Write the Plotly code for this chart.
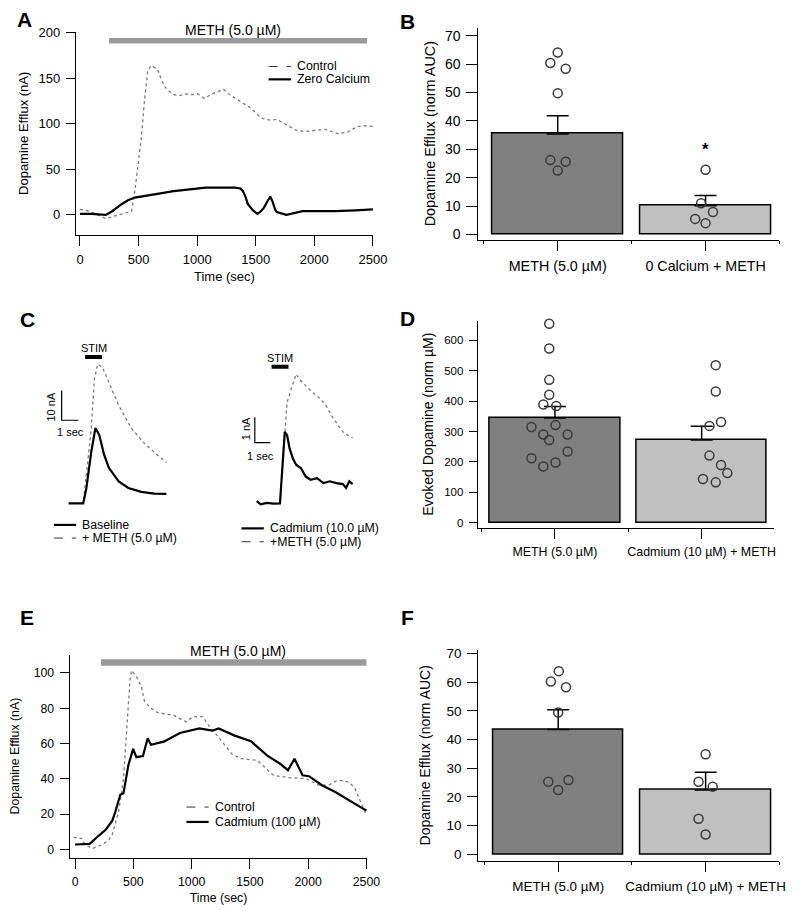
import plotly.graph_objects as go

FONT = "Liberation Sans, Arial, Helvetica, sans-serif"
W, H = 800, 911
PAGE_MARGIN = 8  # default body margin of the page that hosts the figure

# ---------------- Panel A : METH-induced efflux, control vs zero calcium ----------------
a_ctrl_time = [0, 83, 220, 358, 440, 468, 495, 523, 550, 578, 606, 661, 716, 760, 799, 850, 909, 960, 1005,
               1060, 1129, 1180, 1225, 1267, 1350, 1400, 1460, 1542, 1580, 1624, 1680, 1762, 1845, 1900,
               1955, 2093, 2150, 2203, 2285, 2368, 2430, 2500]
a_ctrl_val = [6, 4, -4, 1, 4, 26, 55, 84, 125, 158, 164, 160, 142, 136, 132, 131, 133, 132, 133,
              128, 133, 136, 138, 133, 126, 122, 117, 107, 105, 104, 105, 99, 93, 92,
              92, 94, 91, 89, 91, 97, 98, 97]
a_zca_time = [0, 100, 220, 275, 358, 410, 468, 550, 661, 800, 936, 1074, 1200, 1322, 1370, 1391, 1412,
              1432, 1475, 1515, 1545, 1570, 1600, 1625, 1645, 1665, 1680, 1762, 1900, 2000, 2175, 2350, 2500]
a_zca_val = [1, 1, 0, 4, 12, 16, 19, 21, 23, 26, 28, 30, 30, 30, 29, 26, 20,
             12, 5, 1, 4, 8, 15, 20, 14, 6, 3, 0, 4, 4, 4, 5, 6]

# ---------------- Panel B : AUC bars ----------------
b_cats = ["METH (5.0 µM)", "0 Calcium + METH"]
b_mean = [35.4, 10.1]
b_sem = [6.4, 3.6]
b_pts1 = [64.1, 60.4, 58.4, 49.8, 26.2, 25.6, 22.5]
b_jit1 = [0.0, -0.05, 0.054, 0.0, -0.05, 0.054, 0.0]
b_pts2 = [22.8, 11.0, 7.9, 5.5, 4.0]
b_jit2 = [0.0, -0.03, 0.05, -0.07, 0.0]

# ---------------- Panel C : evoked release traces ----------------
c1_base_t = [0, 0.87, 1.06, 1.35, 1.60, 1.83, 2.12, 2.41, 2.99, 3.57, 4.34, 5.11, 5.84]
c1_base_v = [0, 0, 5.2, 17.4, 25.4, 23.0, 16.3, 11.9, 7.4, 5.2, 3.9, 3.3, 3.2]
c1_meth_t = [0, 0.87, 1.10, 1.35, 1.54, 1.73, 2.02, 2.41, 2.99, 3.76, 4.53, 5.30, 5.84]
c1_meth_v = [0, 0, 11.9, 25.2, 41.9, 46.9, 45.8, 40.8, 33.0, 25.2, 20.2, 16.3, 13.8]
c2_cd_t = [0, 0.25, 0.66, 1.08, 1.5, 1.66, 1.81, 1.96, 2.12, 2.33, 2.54, 2.85, 3.16, 3.47, 3.89,
           4.31, 4.72, 5.14, 5.56, 5.77, 5.98, 6.19]
c2_cd_v = [0.09, -0.04, 0.02, -0.01, 0, 1.39, 2.81, 2.68, 2.16, 1.77, 1.52, 1.39, 1.06, 0.93, 0.99,
           0.80, 0.87, 0.80, 0.76, 0.61, 0.87, 0.76]
c2_meth_t = [1.5, 1.66, 1.81, 1.96, 2.23, 2.54, 2.85, 3.16, 3.58, 4.0, 4.41, 4.83, 5.25, 5.66, 6.19]
c2_meth_v = [0, 1.39, 2.81, 3.98, 4.50, 5.08, 4.82, 4.63, 4.37, 4.17, 3.91, 3.46, 3.07, 2.75, 2.58]

# ---------------- Panel D : evoked dopamine bars ----------------
d_cats = ["METH (5.0 µM)", "Cadmium (10 µM) + METH"]
d_mean = [344.6, 271.7]
d_sem = [38.0, 45.7]
d_pts1 = [655, 573, 470, 421, 389, 384, 315, 321, 290, 290, 272, 234, 212, 198, 185]
d_jit1 = [-0.039, -0.039, -0.039, -0.039, -0.079, 0.009, -0.160, 0.004, -0.079, 0.086,
          -0.039, 0.086, -0.160, 0.004, -0.079]
d_pts2 = [518.5, 431.5, 318.5, 331.5, 220.7, 190, 163, 143.5, 132.6]
d_jit2 = [0.096, 0.096, 0.053, 0.132, 0.053, 0.132, 0.175, 0.009, 0.096]

# ---------------- Panel E : METH-induced efflux, control vs cadmium ----------------
e_ctrl_time = [-14, 55, 83, 152, 235, 291, 318, 374, 415, 443, 471, 484, 526, 568, 595, 651, 706, 844,
               955, 1011, 1094, 1149, 1232, 1343, 1426, 1564, 1703, 1841, 1980, 2090, 2173, 2256, 2339,
               2395, 2450, 2500]
e_ctrl_val = [6.9, 6.2, 2.8, 0.6, 2.8, 5.6, 8.4, 21.5, 40, 68, 96, 101.5, 98, 92.5, 84, 80, 77.6, 76,
              72.3, 75.3, 75.3, 70, 63.6, 54.2, 51.4, 50.5, 42, 40.6, 40.2, 36.4, 36.4, 39.3, 38.3,
              35.5, 27, 19.3]
e_cd_time = [0, 125, 180, 263, 319, 346, 388, 415, 457, 498, 526, 582, 623, 651, 761, 900, 1066, 1177,
             1232, 1370, 1509, 1647, 1758, 1827, 1883, 1952, 2007, 2118, 2229, 2367, 2500]
e_cd_val = [2.8, 3.2, 6.5, 11.2, 16.3, 21.5, 31, 31.8, 47.7, 57, 52.3, 52.9, 63, 59.3, 61.1, 66, 68.6,
            67.3, 68.6, 64.5, 61.3, 53.3, 48.6, 44.9, 51.4, 42, 41.5, 36.4, 32.7, 27, 22]

# ---------------- Panel F : AUC bars ----------------
f_cats = ["METH (5.0 µM)", "Cadmium (10 µM) + METH"]
f_mean = [43.5, 22.4]
f_sem = [6.9, 6.2]
f_pts1 = [63.9, 60.3, 58.3, 49.5, 25.3, 25.9, 22.4]
f_jit1 = [0.004, -0.05, 0.053, 0.0, -0.067, 0.07, 0.0]
f_pts2 = [34.9, 25.3, 23.6, 12.4, 6.9]
f_jit2 = [0.0, -0.048, 0.048, -0.048, 0.0]

BAR_COLORS = ["#808080", "#c0c0c0"]


def px(x):
    return (x - PAGE_MARGIN) / W


def py(y):
    return 1 - (y - PAGE_MARGIN) / H


def fnt(size):
    return dict(family=FONT, size=size, color="black")


fig = go.Figure()


def add_line(t, v, xa, ya, kind):
    if kind == "ctrl":
        line = dict(color="#7a7a7a", width=1.3, dash="dot")
    else:
        line = dict(color="black", width=2.2)
    fig.add_trace(go.Scatter(x=t, y=v, mode="lines", line=line, xaxis=xa, yaxis=ya,
                             showlegend=False, hoverinfo="skip"))


def add_bars(means, sems, pts1, jit1, pts2, jit2, xa, ya, width):
    fig.add_trace(go.Bar(
        x=[0, 1], y=means, width=width, xaxis=xa, yaxis=ya, showlegend=False,
        marker=dict(color=BAR_COLORS, line=dict(color="black", width=1.5)),
        error_y=dict(type="data", symmetric=False, array=sems, arrayminus=[0, 0],
                     color="black", thickness=1.5, width=11)))
    for base, pts, jit in ((0, pts1, jit1), (1, pts2, jit2)):
        fig.add_trace(go.Scatter(
            x=[base + j for j in jit], y=pts, mode="markers", xaxis=xa, yaxis=ya,
            showlegend=False, hoverinfo="skip", cliponaxis=False,
            marker=dict(symbol="circle", size=9, color="rgba(0,0,0,0)",
                        line=dict(color="#3a3a3a", width=1.5))))


add_line(a_ctrl_time, a_ctrl_val, "x", "y", "ctrl")
add_line(a_zca_time, a_zca_val, "x", "y", "treat")
add_bars(b_mean, b_sem, b_pts1, b_jit1, b_pts2, b_jit2, "x2", "y2", 0.885)
add_line(c1_meth_t, c1_meth_v, "x3", "y3", "ctrl")
add_line(c1_base_t, c1_base_v, "x3", "y3", "treat")
add_line(c2_meth_t, c2_meth_v, "x4", "y4", "ctrl")
add_line(c2_cd_t, c2_cd_v, "x4", "y4", "treat")
add_bars(d_mean, d_sem, d_pts1, d_jit1, d_pts2, d_jit2, "x5", "y5", 0.89)
add_line(e_ctrl_time, e_ctrl_val, "x6", "y6", "ctrl")
add_line(e_cd_time, e_cd_val, "x6", "y6", "treat")
add_bars(f_mean, f_sem, f_pts1, f_jit1, f_pts2, f_jit2, "x7", "y7", 0.886)


def ax(domain, rng, anchor, tsize, **kw):
    d = dict(domain=domain, range=rng, anchor=anchor, showline=True, linecolor="black", linewidth=1,
             ticks="outside", tickcolor="black", tickwidth=1, ticklen=9, showgrid=False,
             zeroline=False, tickfont=fnt(tsize), fixedrange=True, ticklabelstandoff=3)
    d.update(kw)
    return d


def hidden(domain, rng, anchor):
    return dict(domain=domain, range=rng, anchor=anchor, visible=False, fixedrange=True)


def cat_x(domain, rng, anchor, cats, tsize):
    return ax(domain, rng, anchor, tsize, tickmode="array", tickvals=[0, 1], ticktext=cats, ticklen=10,
              minor=dict(tickmode="array", tickvals=[-0.5, 0.5, 1.5], ticklen=3, ticks="outside",
                         tickcolor="black"))


layout = dict(
    width=W, height=H, margin=dict(l=0, r=0, t=0, b=0),
    paper_bgcolor="white", plot_bgcolor="rgba(0,0,0,0)", showlegend=False,
    font=fnt(12),
    bargap=0,
    # A
    xaxis=ax([px(65.7), px(373)], [-35.5, 2502], "y", 13, tickvals=[0, 500, 1000, 1500, 2000, 2500],
             ticklen=10, title=dict(text="Time (sec)", font=fnt(13), standoff=5)),
    yaxis=ax([py(231), py(26)], [-21.9, 201.1], "x", 13, tickvals=[0, 50, 100, 150, 200],
             title=dict(text="Dopamine Efflux (nA)", font=fnt(13), standoff=6)),
    # B
    xaxis2=cat_x([px(481.7), px(793)], [-0.537, 1.5], "y2", b_cats, 14.3),
    yaxis2=ax([py(236), py(21.7)], [-1.85, 72.9], "x2", 14, tickvals=list(range(0, 71, 10)), ticklen=11,
              title=dict(text="Dopamine Efflux (norm AUC)", font=fnt(14.4), standoff=5)),
    # C left / right
    xaxis3=hidden([px(30), px(170)], [-1.636, 6.457], "y3"),
    yaxis3=hidden([py(510), py(340)], [-2.57, 54.1], "x3"),
    xaxis4=hidden([px(230), px(370)], [-1.419, 7.331], "y4"),
    yaxis4=hidden([py(510), py(340)], [-0.30, 6.315], "x4"),
    # D
    xaxis5=cat_x([px(481), px(787)], [-0.527, 1.491], "y5", d_cats, 12.4),
    yaxis5=ax([py(526.7), py(318)], [-16.3, 664], "x5", 11.5, tickvals=list(range(0, 601, 100)), ticklen=8,
              title=dict(text="Evoked Dopamine (norm µM)", font=fnt(14), standoff=7)),
    # E
    xaxis6=ax([px(59.3), px(367)], [-47, 2508], "y6", 12.3, tickvals=[0, 500, 1000, 1500, 2000, 2500],
              ticklen=10, title=dict(text="Time (sec)", font=fnt(12.3), standoff=5)),
    yaxis6=ax([py(860), py(655)], [-4.6, 110.4], "x6", 12.3, tickvals=[0, 20, 40, 60, 80, 100], ticklen=9,
              title=dict(text="Dopamine Efflux (nA)", font=fnt(12.3), standoff=17)),
    # F
    xaxis7=cat_x([px(481.7), px(793)], [-0.542, 1.501], "y7", f_cats, 13.4),
    yaxis7=ax([py(863.3), py(650)], [-2.3, 71.4], "x7", 13.5, tickvals=list(range(0, 71, 10)), ticklen=10,
              title=dict(text="Dopamine Efflux (norm AUC)", font=fnt(14), standoff=12)),
)

shapes = []
annotations = []

# Treatment bars (METH application) in A and E
shapes.append(dict(type="line", xref="x", yref="y", x0=248, x1=2450, y0=191.3, y1=191.3,
                   line=dict(color="#9a9a9a", width=5.5)))
annotations.append(dict(xref="x", yref="y domain", x=1307, y=1.008, text="METH (5.0 µM)",
                        yanchor="middle", xanchor="center", showarrow=False, font=fnt(14)))
shapes.append(dict(type="line", xref="x6", yref="y6", x0=222, x1=2500, y0=106, y1=106,
                   line=dict(color="#9a9a9a", width=6.5)))
annotations.append(dict(xref="x6", yref="y6 domain", x=1398, y=1.016, text="METH (5.0 µM)",
                        yanchor="middle", xanchor="center", showarrow=False, font=fnt(14)))

# STIM bars and scale bars in C
shapes.append(dict(type="line", xref="x3", yref="y3", x0=0.983, x1=1.988, y0=49.3, y1=49.3,
                   line=dict(color="black", width=4)))
annotations.append(dict(xref="x3", yref="y3", x=1.49, y=52.4, text="STIM", showarrow=False, font=fnt(11)))
shapes.append(dict(type="line", xref="x4", yref="y4", x0=0.956, x1=2.05, y0=5.37, y1=5.37,
                   line=dict(color="black", width=4)))
annotations.append(dict(xref="x4", yref="y4", x=1.50, y=5.73, text="STIM", showarrow=False, font=fnt(11)))
# scale bars: left 10 nA / 1 sec, right 1 nA / 1 sec
shapes.append(dict(type="path", xref="x3", yref="y3", path="M -0.42 38 L -0.42 28 L 0.58 28",
                   line=dict(color="black", width=1.2)))
shapes.append(dict(type="path", xref="x4", yref="y4", path="M -0.125 3.385 L -0.125 2.385 L 0.875 2.385",
                   line=dict(color="black", width=1.2)))
annotations.append(dict(xref="x3", yref="y3", x=-1.06, y=32.6, text="10 nA", textangle=-90,
                        showarrow=False, font=fnt(11)))
annotations.append(dict(xref="x3", yref="y3", x=0.10, y=23.9, text="1 sec", showarrow=False, font=fnt(11)))
annotations.append(dict(xref="x4", yref="y4", x=-0.69, y=2.92, text="1 nA", textangle=-90,
                        showarrow=False, font=fnt(11)))
annotations.append(dict(xref="x4", yref="y4", x=0.25, y=1.87, text="1 sec", showarrow=False, font=fnt(11)))

# significance asterisk in B
annotations.append(dict(xref="x2", yref="y2", x=1, y=30.0, text="<b>*</b>", showarrow=False, font=fnt(17)))

# Hand-drawn legends (Igor style) : key line + label, in pixel positions
legend_items = [
    (265, 288, 61, "ctrl", "Control"),
    (265, 288, 74, "treat", "Zero Calcium"),
    (43, 66, 524, "treat", "Baseline"),
    (43, 66, 537.3, "ctrl", "+ METH (5.0 µM)"),
    (237, 260, 527.5, "treat", "Cadmium (10.0 µM)"),
    (237, 260, 541, "ctrl", "+METH (5.0 µM)"),
    (180, 203, 809, "ctrl", "Control"),
    (180, 203, 824, "treat", "Cadmium (100 µM)"),
]
for x0, x1, yy, kind, label in legend_items:
    ln = dict(color="black", width=2.2) if kind == "treat" else dict(color="#333333", width=1, dash="dash")
    shapes.append(dict(type="line", xref="paper", yref="paper", x0=px(x0), x1=px(x1), y0=py(yy), y1=py(yy),
                       line=ln))
    annotations.append(dict(xref="paper", yref="paper", x=px(x1 + 4), y=py(yy), xanchor="left",
                            yanchor="middle", text=label, showarrow=False, font=fnt(12.3)))

# Panel letters
for letter, x, y in (("A", 13, 14), ("B", 408, 16), ("C", 16, 317), ("D", 408, 316),
                     ("E", 15, 618), ("F", 408, 618)):
    annotations.append(dict(xref="paper", yref="paper", x=px(x), y=py(y), text="<b>%s</b>" % letter,
                            showarrow=False, xanchor="center", yanchor="middle", font=fnt(21)))

layout["shapes"] = shapes
layout["annotations"] = annotations
fig.update_layout(**layout)

fig.write_html("out.html")
